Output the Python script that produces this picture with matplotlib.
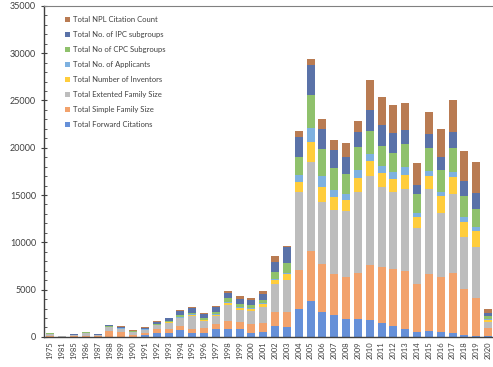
import numpy as np
import matplotlib
matplotlib.use('Agg')
import matplotlib.pyplot as plt
from matplotlib.ticker import MultipleLocator

plt.rcParams['font.family'] = ['Lato', 'DejaVu Sans']

years = ['1975', '1981', '1985', '1986', '1987', '1988', '1989', '1990', '1991',
         '1992', '1993', '1994', '1995', '1996', '1997', '1998', '1999', '2000',
         '2001', '2002', '2003', '2004', '2005', '2006', '2007', '2008', '2009',
         '2010', '2011', '2012', '2013', '2014', '2015', '2016', '2017', '2018',
         '2019', '2020']

forward_citations = [20, 10, 20, 40, 10, 20, 20, 20, 200, 460, 460, 700, 460, 460, 810, 810,
                     810, 460, 530, 1160, 1030, 2930, 3840, 2640, 2330, 1870, 1870, 1800,
                     1510, 1200, 850, 560, 670, 560, 460, 180, 50, 80]
simple_family = [30, 20, 60, 80, 40, 650, 480, 200, 250, 350, 350, 460, 420, 530, 530, 880,
                 770, 880, 920, 1510, 1650, 4160, 5290, 5080, 4340, 4500, 4860, 5820,
                 5920, 5960, 6160, 5040, 6000, 5750, 6340, 4860, 4040, 850]
extended_family = [300, 60, 150, 300, 180, 350, 350, 300, 300, 420, 710, 820, 1340, 700, 880,
                   1650, 1270, 1410, 1760, 2960, 3320, 8280, 9410, 6590, 6770, 6980, 8630,
                   9340, 8460, 8210, 8610, 5890, 8960, 6830, 8320, 5500, 5390, 630]
inventors = [10, 0, 10, 20, 10, 30, 20, 20, 30, 20, 30, 60, 100, 60, 140, 210, 250, 250, 250,
             390, 630, 1060, 2110, 1590, 1340, 1130, 1420, 1590, 1480, 1310, 1510, 1160,
             1410, 1770, 1770, 1650, 1680, 210]
applicants = [0, 0, 0, 10, 0, 20, 20, 10, 20, 20, 30, 40, 50, 40, 60, 100, 80, 80, 80, 150,
              100, 700, 1420, 1060, 700, 630, 880, 780, 710, 800, 810, 420, 450, 450, 590,
              530, 490, 100]
cpc_subgroups = [20, 0, 10, 20, 10, 100, 80, 50, 80, 50, 60, 250, 180, 250, 210, 420, 350, 280,
                 350, 690, 1050, 1940, 3520, 2900, 2370, 2110, 2400, 2460, 2110, 2010, 2460,
                 2040, 2470, 2290, 2470, 2190, 1840, 320]
ipc_subgroups = [60, 10, 30, 60, 30, 80, 100, 60, 100, 280, 320, 390, 530, 390, 490, 530, 530,
                 530, 630, 1110, 1710, 2110, 3170, 2150, 1860, 1830, 1650, 2220, 2220, 2050,
                 1480, 950, 1510, 1340, 1760, 1620, 1720, 320]
npl_citations = [20, 0, 40, 40, 40, 50, 50, 30, 40, 60, 80, 100, 100, 80, 100, 280, 280, 250,
                 320, 560, 100, 600, 630, 1030, 1060, 1480, 1130, 3100, 2990, 2990, 2890, 2290,
                 2360, 2960, 3350, 3170, 3310, 420]

series = [
    ('Total Forward Citations', forward_citations, '#6690d8'),
    ('Total Simple Family Size', simple_family, '#f2a26c'),
    ('Total Extented Family Size', extended_family, '#bdbdbd'),
    ('Total Number of Inventors', inventors, '#ffcd3c'),
    ('Total No. of Applicants', applicants, '#7eb1e0'),
    ('Total No of CPC Subgroups', cpc_subgroups, '#8fc16c'),
    ('Total No. of IPC subgroups', ipc_subgroups, '#5a72a8'),
    ('Total NPL Citation Count', npl_citations, '#b97b52'),
]

fig = plt.figure(figsize=(4.93, 3.67), dpi=100)
ax = fig.add_axes([0.09, 0.082, 0.912, 0.902])

x = np.arange(len(years))
bottom = np.zeros(len(years))
for label, vals, color in series:
    vals = np.array(vals, dtype=float)
    ax.bar(x, vals, 0.68, bottom=bottom, color=color, label=label, linewidth=0)
    bottom += vals

ax.set_xlim(-0.5, 37.5)
ax.set_ylim(0, 35000)
ax.yaxis.set_major_locator(MultipleLocator(5000))
ax.yaxis.set_minor_locator(MultipleLocator(1000))
ax.set_xticks(x)
ax.set_xticklabels(years, rotation=90, fontsize=5.5, color='#404040')
ax.tick_params(axis='y', which='major', direction='inout', length=5, labelsize=6.5,
               colors='#404040')
ax.tick_params(axis='y', which='minor', direction='in', length=2.5, color='#404040')
ax.tick_params(axis='x', length=0, pad=3)

for side in ['left', 'bottom']:
    ax.spines[side].set_color('#404040')
    ax.spines[side].set_linewidth(1.0)
ax.spines['top'].set_color('#808080')
ax.spines['right'].set_visible(False)

handles, labels = ax.get_legend_handles_labels()
leg = ax.legend(handles[::-1], labels[::-1], loc='upper left', bbox_to_anchor=(0.03, 0.99),
                frameon=False, fontsize=5.5, handlelength=0.65, handleheight=0.65,
                handletextpad=0.45, labelspacing=1.05)
for t in leg.get_texts():
    t.set_color('#404040')

fig.savefig('out.png', dpi=100)
